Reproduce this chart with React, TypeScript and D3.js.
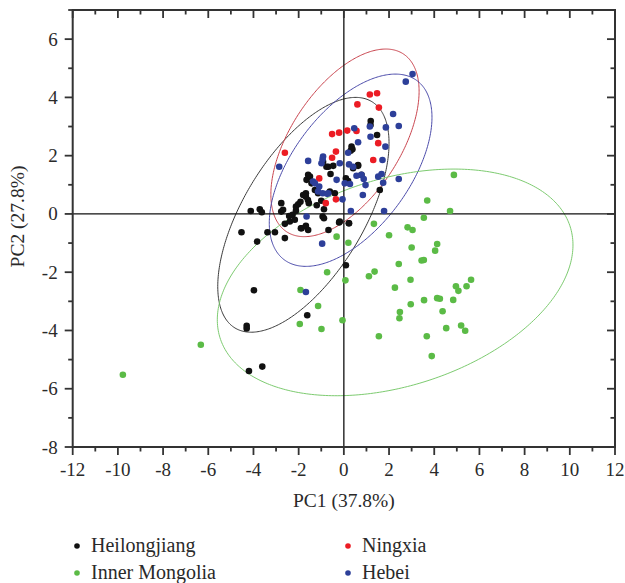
import React from 'react';
import * as d3 from 'd3';

// scores: [PC1, PC2]
const heilongjiang = [
  [-4.53, -0.63], [-3.84, -0.95], [-3.38, -0.63], [-3.05, -0.63], [-2.61, -0.83],
  [-2.61, -0.34], [-2.39, -0.26], [-2.17, -0.2], [-1.9, -0.49], [-1.68, -0.41],
  [-3.98, -2.62], [-4.3, -3.84], [-4.3, -3.93], [-4.2, -5.39], [-3.61, -5.24],
  [-1.62, -3.48], [0.09, -1.76], [0.22, -0.32], [-0.21, -0.29], [-0.68, -0.55],
  [-4.12, 0.1], [-3.72, 0.16], [-3.63, 0.06], [-2.77, 0.37], [-2.77, 0.08],
  [-2.69, 0.14], [-2.42, -0.07], [-2.27, -0.03], [-2.12, 0.11], [-2.12, 0.25],
  [-2.02, 0.33], [-1.92, 0.42], [-1.68, 0.71], [-1.8, 0.65], [-1.68, 0.59],
  [-1.59, 0.48], [-1.55, 0.37], [-1.87, -0.49], [-1.58, -0.55], [-1.65, 1.17],
  [-1.5, 1.28], [-1.58, 1.34], [-1.43, 1.05], [-1.28, 0.82], [-1.14, 0.71],
  [-0.77, 1.62], [-0.92, 1.79], [-0.69, 1.62], [-0.47, 1.65], [-0.59, 1.37],
  [0.09, 1.22], [0.19, 1.13], [0.63, 1.68], [0.78, 1.34], [-0.62, 0.77],
  [-0.4, 0.71], [1.59, 0.82], [-0.88, 0.16], [-0.94, -0.09], [-0.88, -0.15],
  [-0.18, -0.26], [0.23, -0.32], [1.19, 3.19], [1.18, 3.05], [1.47, 2.71],
  [0.34, 2.31], [0.3, 2.17], [0.38, 2.22], [0.63, 1.65], [0.41, 1.57],
  [-1.2, 0.3], [-1.0, 0.45],
];

const innerMongolia = [
  [-9.78, -5.52], [-6.33, -4.49], [0.2, -0.99], [-0.74, -2.0], [0.07, -2.28],
  [-1.92, -2.61], [-1.14, -3.16], [-1.95, -3.78], [-0.99, -3.95], [-0.06, -3.65],
  [3.0, -1.15], [4.13, -1.03], [4.04, -1.26], [2.43, -1.72], [3.44, -1.6],
  [3.54, -1.58], [1.36, -1.98], [1.11, -2.14], [2.95, -2.26], [2.26, -2.53],
  [4.13, -2.89], [4.25, -2.91], [3.55, -2.96], [2.96, -3.1], [2.48, -3.37],
  [2.46, -3.58], [1.55, -4.2], [3.67, -4.2], [3.89, -4.88], [1.33, -0.34],
  [2.82, -0.46], [3.04, -0.55], [-0.32, -0.78], [2.0, -0.73], [4.37, -3.34],
  [4.84, -2.95], [4.96, -2.48], [5.07, -2.64], [5.43, -2.48], [5.63, -2.26],
  [4.53, -3.92], [5.19, -3.83], [5.37, -4.01], [4.87, 1.34], [3.69, 0.46],
  [4.7, 0.1], [3.54, -0.13],
];

const ningxia = [
  [1.15, 4.1], [1.47, 4.14], [0.6, 3.76], [1.55, 3.65], [-0.52, 2.74],
  [-0.21, 2.79], [0.15, 2.86], [0.56, 2.85], [-0.35, 2.14], [-0.52, 1.93],
  [1.52, 2.43], [1.3, 1.85], [-1.09, 1.22], [-0.8, 0.37], [-0.35, 0.5],
  [-2.61, 2.1],
];

const hebei = [
  [3.04, 4.8], [2.74, 4.54], [2.18, 3.43], [2.43, 3.02], [1.86, 2.97],
  [1.15, 3.0], [0.46, 2.94], [0.63, 2.46], [1.18, 2.65], [1.84, 2.31],
  [0.19, 2.1], [1.71, 1.85], [-0.18, 1.74], [0.23, 1.7], [0.41, 1.62],
  [0.56, 1.31], [0.78, 1.34], [1.67, 1.37], [1.52, 1.28], [0.88, 1.2],
  [0.96, 0.99], [2.43, 1.2], [1.74, 1.07], [0.84, 0.65], [-0.06, 0.5],
  [0.31, 0.1], [1.78, 0.1], [-0.32, 1.17], [0.04, 1.05], [0.27, 1.03],
  [-0.92, 1.97], [-0.99, 1.74], [-1.58, 1.82], [-1.65, -0.09], [-2.86, 1.62],
  [-1.36, 1.11], [-1.09, 0.94], [-1.28, 1.05], [-1.14, 0.77], [-0.94, 0.71],
  [-0.69, 0.71], [-0.96, -1.02], [-1.68, -2.68], [-0.94, 1.88], [-0.74, 0.69],
];

// confidence ellipses: centre, half-extent in x and y, correlation
const ellipses = [
  { name: 'Heilongjiang', cx: -1.79, cy: -0.03, sx: 3.79, sy: 4.03, rho: 0.61 },
  { name: 'Ningxia', cx: 0.05, cy: 2.44, sx: 3.28, sy: 3.22, rho: 0.55 },
  { name: 'Hebei', cx: 0.3, cy: 1.5, sx: 3.6, sy: 3.3, rho: 0.55 },
  { name: 'Inner Mongolia', cx: 2.27, cy: -2.35, sx: 7.87, sy: 3.89, rho: 0.33 },
];

const xTicks = [-12, -10, -8, -6, -4, -2, 0, 2, 4, 6, 8, 10, 12];
const yTicks = [-8, -6, -4, -2, 0, 2, 4, 6];

const dotColor = {
  Heilongjiang: '#111111',
  'Inner Mongolia': '#5bbb46',
  Ningxia: '#ec1c24',
  Hebei: '#2d3f99',
};
const lineColor = {
  Heilongjiang: '#3a3a3a',
  'Inner Mongolia': '#7dcb70',
  Ningxia: '#c9424c',
  Hebei: '#4a4aaa',
};

const groups = [
  { name: 'Heilongjiang', data: heilongjiang },
  { name: 'Inner Mongolia', data: innerMongolia },
  { name: 'Ningxia', data: ningxia },
  { name: 'Hebei', data: hebei },
];

const W = 625, H = 583;
const margin = { left: 72.7, right: 10, top: 10, bottom: 136 };
const font = '"Liberation Serif", "DejaVu Serif", serif';

export default function App() {
  const x = d3.scaleLinear().domain([-12, 12]).range([margin.left, W - margin.right]);
  const y = d3.scaleLinear().domain([-8, 7]).range([H - margin.bottom, margin.top]);
  const [x0, x1] = x.range();
  const [y0, y1] = y.range();

  const line = d3.line<number[]>().x(d => x(d[0])).y(d => y(d[1])).curve(d3.curveLinearClosed);
  const ellipsePath = (e) => {
    const pts = d3.range(0, 360).map(i => {
      const t = (i / 360) * 2 * Math.PI;
      return [
        e.cx + e.sx * Math.cos(t),
        e.cy + e.sy * (e.rho * Math.cos(t) + Math.sqrt(1 - e.rho * e.rho) * Math.sin(t)),
      ];
    });
    return line(pts);
  };

  const xMinor = d3.range(-11, 12, 2);
  const yMinor = d3.range(-7, 8, 2);
  const axisColor = '#333';

  return (
    <svg width={W} height={H} style={{ position: 'absolute', left: 0, top: 0 }} fontFamily={font}>
      <rect x={0} y={0} width={W} height={H} fill="#fff" />
      {ellipses.map(e => (
        <path key={e.name} d={ellipsePath(e)} fill="none" stroke={lineColor[e.name]} strokeWidth={1} />
      ))}
      {/* zero lines */}
      <line x1={x0} x2={x1} y1={y(0)} y2={y(0)} stroke="#111" strokeWidth={1.3} />
      <line x1={x(0)} x2={x(0)} y1={y0} y2={y1} stroke="#111" strokeWidth={1.3} />

      {groups.map(g => (
        <g key={g.name}>
          {g.data.map((d, i) => (
            <circle key={i} cx={x(d[0])} cy={y(d[1])} r={3.3} fill={dotColor[g.name]} />
          ))}
        </g>
      ))}

      {/* frame */}
      <rect x={x0} y={y1} width={x1 - x0} height={y0 - y1} fill="none" stroke={axisColor} strokeWidth={2} />
      {xTicks.map(t => (
        <g key={'xt' + t}>
          <line x1={x(t)} x2={x(t)} y1={y0} y2={y0 + 8} stroke={axisColor} strokeWidth={1.8} />
          <line x1={x(t)} x2={x(t)} y1={y1} y2={y1 + 8} stroke={axisColor} strokeWidth={1.8} />
          <text x={x(t)} y={y0 + 29} textAnchor="middle" fontSize={19} fill="#2a2a2a">{t}</text>
        </g>
      ))}
      {xMinor.map(t => (
        <g key={'xm' + t}>
          <line x1={x(t)} x2={x(t)} y1={y0} y2={y0 + 4.5} stroke={axisColor} strokeWidth={1.8} />
          <line x1={x(t)} x2={x(t)} y1={y1} y2={y1 + 4.5} stroke={axisColor} strokeWidth={1.8} />
        </g>
      ))}
      {yTicks.map(t => (
        <g key={'yt' + t}>
          <line x1={x0 - 8} x2={x0} y1={y(t)} y2={y(t)} stroke={axisColor} strokeWidth={1.8} />
          <line x1={x1 - 8} x2={x1} y1={y(t)} y2={y(t)} stroke={axisColor} strokeWidth={1.8} />
          <text x={x0 - 15} y={y(t) + 6.5} textAnchor="end" fontSize={19} fill="#2a2a2a">{t}</text>
        </g>
      ))}
      {yMinor.map(t => (
        <g key={'ym' + t}>
          <line x1={x0 - 4.5} x2={x0} y1={y(t)} y2={y(t)} stroke={axisColor} strokeWidth={1.8} />
          <line x1={x1 - 4.5} x2={x1} y1={y(t)} y2={y(t)} stroke={axisColor} strokeWidth={1.8} />
        </g>
      ))}

      <text x={(x0 + x1) / 2} y={y0 + 60} textAnchor="middle" fontSize={19.5} fill="#2a2a2a">PC1 (37.8%)</text>
      <text transform={`translate(24,${(y0 + y1) / 2 - 12}) rotate(-90)`} textAnchor="middle" fontSize={19.5} fill="#2a2a2a">PC2 (27.8%)</text>

      {/* legend */}
      {groups.map((g, i) => {
        const col = i === 0 || i === 1 ? 0 : 1;
        const row = i === 0 || i === 2 ? 0 : 1;
        const lx = col === 0 ? 77 : 348;
        const ly = 546 + row * 27;
        return (
          <g key={'lg' + g.name}>
            <circle cx={lx} cy={ly} r={2.8} fill={dotColor[g.name]} />
            <text x={lx + 14} y={ly + 6} fontSize={20} fill="#2a2a2a">{g.name}</text>
          </g>
        );
      })}
    </svg>
  );
}
